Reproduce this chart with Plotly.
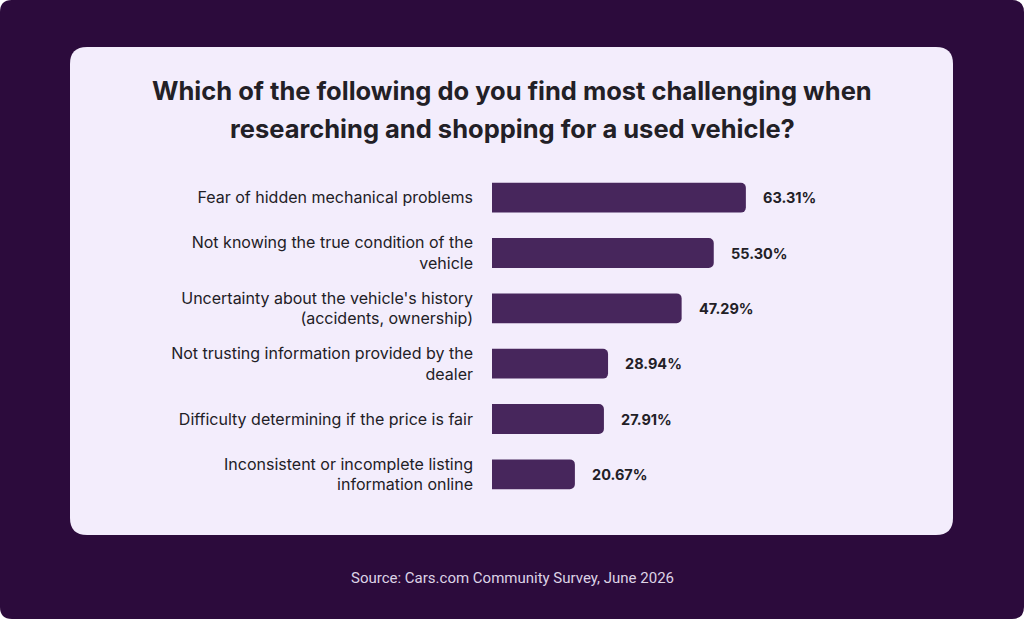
import plotly.graph_objects as go

# survey answers, top to bottom
challenges = [
    "Fear of hidden mechanical problems",
    "Not knowing the true condition of the<br>vehicle",
    "Uncertainty about the vehicle's history<br>(accidents, ownership)",
    "Not trusting information provided by the<br>dealer",
    "Difficulty determining if the price is fair",
    "Inconsistent or incomplete listing<br>information online",
]
shares = [63.31, 55.30, 47.29, 28.94, 27.91, 20.67]

title_lines = [
    "Which of the following do you find most challenging when",
    "researching and shopping for a used vehicle?",
]
source_note = "Source: Cars.com Community Survey, June 2026"

W, H = 1024, 619
# plot area in pixels
L, R, T, B = 492, 900, 170, 502
PX_PER_PCT = 4.01

BG = "#2c0b3c"
CARD = "#f3edfc"
BAR = "#47265c"
INK = "#222026"
FONT = "Inter"


def to_paper(px, py):
    return (px - L) / (R - L), (B - py) / (B - T)


def rounded_rect(x0, y0, x1, y1, r):
    pts = [
        ("M", [(x0 + r, y0)]),
        ("L", [(x1 - r, y0)]),
        ("Q", [(x1, y0), (x1, y0 + r)]),
        ("L", [(x1, y1 - r)]),
        ("Q", [(x1, y1), (x1 - r, y1)]),
        ("L", [(x0 + r, y1)]),
        ("Q", [(x0, y1), (x0, y1 - r)]),
        ("L", [(x0, y0 + r)]),
        ("Q", [(x0, y0), (x0 + r, y0)]),
    ]
    out = []
    for cmd, coords in pts:
        s = " ".join("%.5f,%.5f" % to_paper(x, y) for x, y in coords)
        out.append(cmd + s)
    return " ".join(out) + " Z"


fig = go.Figure()
fig.add_trace(go.Bar(
    x=shares,
    y=challenges,
    orientation="h",
    marker=dict(color=BAR, line=dict(width=0)),
    hoverinfo="skip",
))

# value labels just past the bar ends
for lab, v in zip(challenges, shares):
    fig.add_annotation(
        x=v, y=lab, text="<b>%.2f%%</b>" % v, xanchor="left", xshift=15,
        showarrow=False, font=dict(family=FONT, size=14.5, color=INK),
    )

shapes = [
    dict(type="path", xref="paper", yref="paper", layer="below",
         path=rounded_rect(0, 0, W, H, 12), fillcolor=BG, line=dict(width=0)),
    dict(type="path", xref="paper", yref="paper", layer="below",
         path=rounded_rect(70, 47, 953, 535, 17), fillcolor=CARD, line=dict(width=0)),
]

mid_x = (512 - L) / (R - L)

# title lines and source note
for i, line in enumerate(title_lines):
    _, py = to_paper(0, 91 + i * 37)
    fig.add_annotation(
        x=mid_x, xref="paper", y=py, yref="paper", xanchor="center", yanchor="middle",
        text="<b>%s</b>" % line, showarrow=False,
        font=dict(family=FONT, size=25.5, color=INK),
    )
_, sy = to_paper(0, 578)
fig.add_annotation(
    x=mid_x, xref="paper", y=sy, yref="paper",
    xanchor="center", yanchor="middle", text=source_note, showarrow=False,
    font=dict(family="Roboto", size=15, color="#ddd3e6"),
)

fig.update_layout(
    width=W, height=H,
    margin=dict(l=L, r=W - R, t=T, b=H - B, pad=0),
    paper_bgcolor="white",
    plot_bgcolor="rgba(0,0,0,0)",
    showlegend=False,
    bargap=0.46,
    barcornerradius=5,
    shapes=shapes,
    xaxis=dict(range=[0, (R - L) / PX_PER_PCT], visible=False, fixedrange=True),
    yaxis=dict(
        autorange="reversed", showgrid=False, zeroline=False, showline=False,
        ticks="", ticklabelstandoff=18, fixedrange=True,
        tickfont=dict(family=FONT, size=16, color=INK),
    ),
)

fig.write_html(
    "out.html",
    config={"displayModeBar": False},
    post_script="document.body.style.margin='0';",
)
